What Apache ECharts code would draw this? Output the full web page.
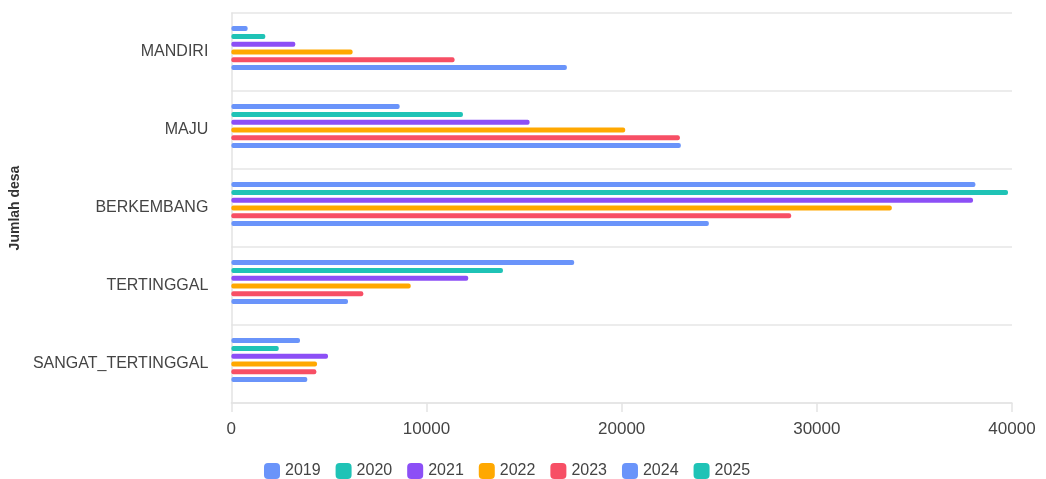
<!DOCTYPE html>
<html>
<head>
<meta charset="utf-8">
<script src="https://cdn.jsdelivr.net/npm/echarts@6/dist/echarts.min.js"></script>
<style>html,body{margin:0;padding:0;background:#fff;}#c{width:1046px;height:479px;}</style>
</head>
<body>
<div id="c"></div>
<script>
const categories = ['SANGAT_TERTINGGAL', 'TERTINGGAL', 'BERKEMBANG', 'MAJU', 'MANDIRI'];
const years = ['2019', '2020', '2021', '2022', '2023', '2024', '2025'];
const v2019 = [3518, 17567, 38126, 8625, 835];
const v2020 = [2428, 13916, 39795, 11867, 1741];
const v2021 = [4953, 12138, 38003, 15282, 3277];
const v2022 = [4389, 9188, 33840, 20179, 6212];
const v2023 = [4353, 6760, 28682, 22980, 11436];
const v2024 = [3892, 5977, 24467, 23031, 17192];
const v2025 = [null, null, null, null, null];
const xTicks = [0, 10000, 20000, 30000, 40000];

const values = [v2019, v2020, v2021, v2022, v2023, v2024, v2025];
const colors = ['#6A94FA', '#1FC3B6', '#8C4FF6', '#FFA800', '#F74F65', '#6A94FA', '#1FC3B6'];
const font = '"Liberation Sans", Arial, Helvetica, sans-serif';

const chart = echarts.init(document.getElementById('c'), null, {renderer: 'canvas'});
chart.setOption({
  animation: false,
  textStyle: {fontFamily: font},
  grid: {left: 231, right: 34, top: 13, bottom: 76},
  legend: {
    data: years,
    left: 259,
    top: 458,
    icon: 'roundRect',
    itemWidth: 16,
    itemHeight: 16,
    itemGap: 15,
    textStyle: {fontSize: 16, color: '#444', fontFamily: font}
  },
  xAxis: {
    type: 'value',
    min: xTicks[0],
    max: xTicks[xTicks.length - 1],
    interval: 10000,
    axisLine: {show: true, lineStyle: {color: '#e3e3e3', width: 1.5}},
    axisTick: {show: true, length: 9, lineStyle: {color: '#e3e3e3', width: 1.5}},
    splitLine: {show: false},
    axisLabel: {fontSize: 17, color: '#444', margin: 18, fontFamily: font, formatter: v => String(v)}
  },
  yAxis: {
    type: 'category',
    data: categories,
    name: 'Jumlah desa',
    nameLocation: 'middle',
    nameGap: 203,
    nameTextStyle: {fontSize: 14, fontWeight: 'bold', color: '#333', fontFamily: font},
    axisLine: {show: true, lineStyle: {color: '#e3e3e3', width: 1.5}},
    axisTick: {show: false},
    splitLine: {show: true, lineStyle: {color: '#e6e6e6', width: 1.5}},
    axisLabel: {fontSize: 16, color: '#444', margin: 23, fontFamily: font}
  },
  series: years.map((y, i) => ({
    name: y,
    type: 'bar',
    data: values[i],
    barWidth: 5,
    barGap: '56%',
    itemStyle: {color: colors[i], borderRadius: 2}
  }))
});
</script>
</body>
</html>
